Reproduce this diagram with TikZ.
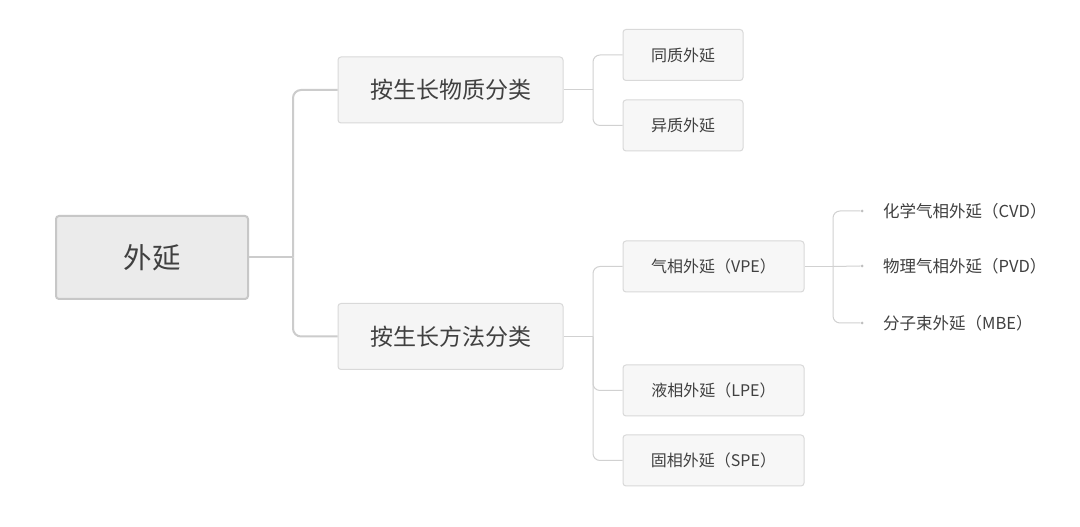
\documentclass[tikz,border=0pt]{standalone}
\usepackage{fontspec}
\setmainfont{Noto Sans CJK SC}
\begin{document}
\begin{tikzpicture}[x=1pt,y=1pt,
  txt/.style={text=black!75},
  rootbox/.style={draw=black!22, line width=2pt, fill=black!8, rounded corners=3pt, minimum width=192pt, minimum height=83pt, font=\fontsize{28.5}{30}\selectfont, txt},
  midbox/.style={draw=black!15, line width=1pt, fill=black!4, rounded corners=3pt, minimum width=225pt, minimum height=66pt, font=\fontsize{23}{25}\selectfont, txt},
  smallbox/.style={draw=black!15, line width=1pt, fill=black!3, rounded corners=3pt, minimum height=51pt, font=\fontsize{16}{18}\selectfont, txt},
  leaf/.style={anchor=west, inner sep=0pt, font=\fontsize{16.5}{18}\selectfont, txt},
  thickline/.style={draw=black!20, line width=2pt, rounded corners=8pt},
  thinline/.style={draw=black!18, line width=1pt, rounded corners=7pt},
  dot/.style={circle, fill=black!25, inner sep=0pt, minimum size=3pt}
]
\useasboundingbox (0,0) rectangle (1080,527);
\fill[white] (0,0) rectangle (1080,527);

% nodes (y = 527 - ypx)
\node[rootbox] (root) at (152,269.5) {外延};
\node[midbox] (m1) at (450.5,437) {按生长物质分类};
\node[midbox] (m2) at (450.5,190.5) {按生长方法分类};
\node[smallbox, minimum width=120pt] (s1) at (683,472) {同质外延};
\node[smallbox, minimum width=120pt] (s2) at (683,401.5) {异质外延};
\node[smallbox, minimum width=181pt] (v) at (713.5,260.5) {气相外延（VPE）};
\node[smallbox, minimum width=181pt] (l) at (713.5,136.5) {液相外延（LPE）};
\node[smallbox, minimum width=181pt] (s) at (713.5,66.5) {固相外延（SPE）};

\node[dot] (d1) at (862,316) {};
\node[dot] (d2) at (862,261) {};
\node[dot] (d3) at (862,204) {};
\node[leaf] (c1) at (883,316) {化学气相外延（CVD）};
\node[leaf] (c2) at (883,261) {物理气相外延（PVD）};
\node[leaf] (c3) at (883,204) {分子束外延（MBE）};

% junctions
\coordinate (j0) at (293,269.5);
\coordinate (j1) at (593,437);
\coordinate (j2) at (593,190.5);
\coordinate (j3) at (833,260.5);

% connectors
\draw[thickline] (root.east) -- (j0);
\draw[thickline] (j0) |- (m1.west);
\draw[thickline] (j0) |- (m2.west);

\draw[thinline] (m1.east) -- (j1);
\draw[thinline] (j1) |- (s1.west);
\draw[thinline] (j1) |- (s2.west);

\draw[thinline] (m2.east) -- (j2);
\draw[thinline] (j2) |- (v.west);
\draw[thinline] (j2) |- (l.west);
\draw[thinline] (j2) |- (s.west);

\draw[thinline] (v.east) -- (j3);
\draw[thinline] (j3) |- (d1.west);
\draw[thinline] (j3) -- (d2.west);
\draw[thinline] (j3) |- (d3.west);
\end{tikzpicture}
\end{document}
